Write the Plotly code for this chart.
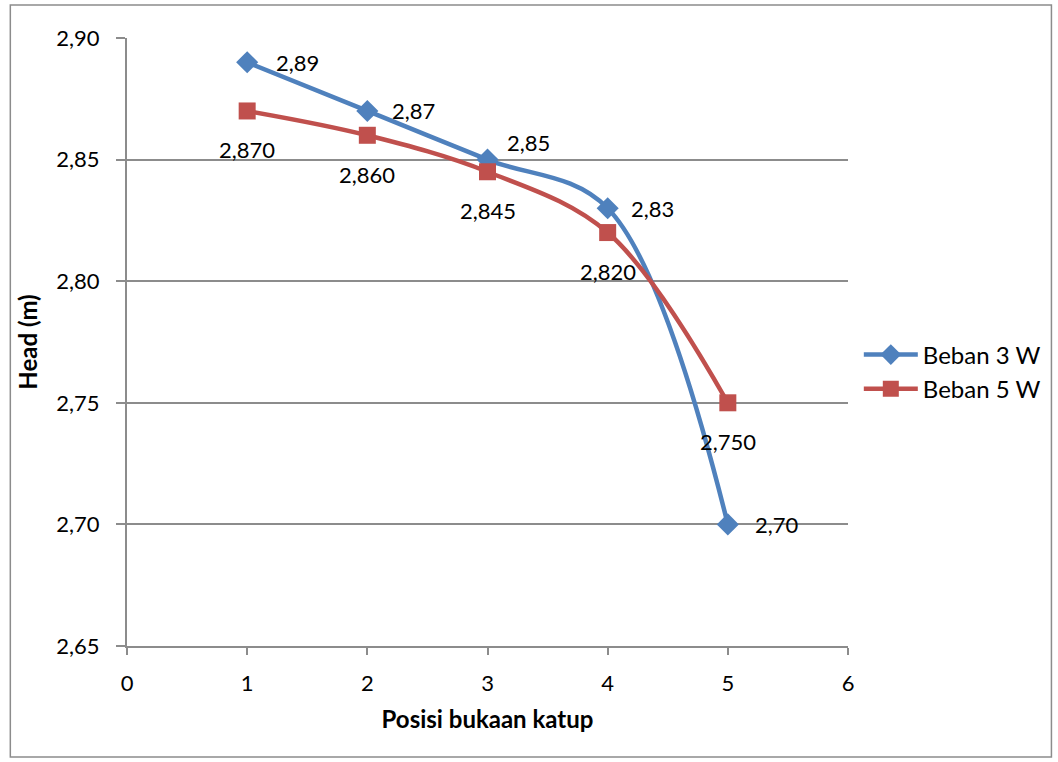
import plotly.graph_objects as go

# Valve opening position vs. head for two loads
posisi = [1, 2, 3, 4, 5]
head_3w = [2.89, 2.87, 2.85, 2.83, 2.70]
head_5w = [2.870, 2.860, 2.845, 2.820, 2.750]

x_ticks = [0, 1, 2, 3, 4, 5, 6]
y_ticks = [2.65, 2.70, 2.75, 2.80, 2.85, 2.90]

BLUE = "#4F81BD"
RED = "#C0504D"
GRID = "#8C8C8C"
FONT = "Lato"

fig = go.Figure()
fig.add_trace(go.Scatter(
    x=posisi, y=head_3w, name="Beban 3 W", mode="lines+markers",
    line=dict(color=BLUE, width=4.5, shape="spline", smoothing=1.0),
    marker=dict(symbol="diamond", size=17, color=BLUE),
))
fig.add_trace(go.Scatter(
    x=posisi, y=head_5w, name="Beban 5 W", mode="lines+markers",
    line=dict(color=RED, width=4.5, shape="spline", smoothing=1.0),
    marker=dict(symbol="square", size=17, color=RED),
))

# data labels: 3 W to the right of the marker, 5 W below it
shift_3w = [(50, 0), (46, 0), (41, 17), (45, 0), (49, 0)]
annotations = []
for xv, yv, (dx, dy) in zip(posisi, head_3w, shift_3w):
    annotations.append(dict(
        x=xv, y=yv, text=f"{yv:.2f}".replace(".", ","), showarrow=False,
        xshift=dx, yshift=dy, font=dict(family=FONT, size=22, color="black"),
    ))
for xv, yv in zip(posisi, head_5w):
    annotations.append(dict(
        x=xv, y=yv, text=f"{yv:.3f}".replace(".", ","), showarrow=False,
        xshift=0, yshift=-39, font=dict(family=FONT, size=22, color="black"),
    ))

fig.update_layout(
    width=1058, height=762,
    margin=dict(l=127, r=208, t=38, b=116),
    paper_bgcolor="white", plot_bgcolor="white",
    separators=",.",
    font=dict(family=FONT, size=22, color="black"),
    showlegend=True,
    legend=dict(
        x=1.015, y=(646 - 372) / 608, xanchor="left", yanchor="middle",
        font=dict(family=FONT, size=24, color="black"),
        itemwidth=54, tracegroupgap=0, bgcolor="rgba(0,0,0,0)",
    ),
    annotations=annotations,
    shapes=[dict(
        type="rect", xref="paper", yref="paper",
        x0=(10 - 127) / 723, x1=(1054 - 127) / 723,
        y0=(646 - 757) / 608, y1=(646 - 5) / 608,
        line=dict(color="#8C8C8C", width=1.5), fillcolor="rgba(0,0,0,0)",
        layer="below",
    )],
)

fig.update_xaxes(
    range=[0, 6], tickvals=x_ticks, ticktext=[str(v) for v in x_ticks],
    showgrid=False, zeroline=False,
    showline=True, linecolor=GRID, linewidth=2,
    ticks="outside", ticklen=7, tickwidth=2, tickcolor=GRID,
    ticklabelstandoff=10,
    tickfont=dict(family=FONT, size=22),
    title=dict(text="<b>Posisi bukaan katup</b>", font=dict(family=FONT, size=24), standoff=16),
)
fig.update_yaxes(
    range=[2.65, 2.90], tickvals=y_ticks, tickformat=".2f",
    showgrid=True, gridcolor=GRID, gridwidth=1.5, zeroline=False,
    showline=True, linecolor=GRID, linewidth=2,
    ticks="outside", ticklen=9, tickwidth=2, tickcolor=GRID,
    ticklabelstandoff=12,
    tickfont=dict(family=FONT, size=22),
    title=dict(text="<b>Head (m)</b>", font=dict(family=FONT, size=24), standoff=12),
)

fig.write_html("out.html")
